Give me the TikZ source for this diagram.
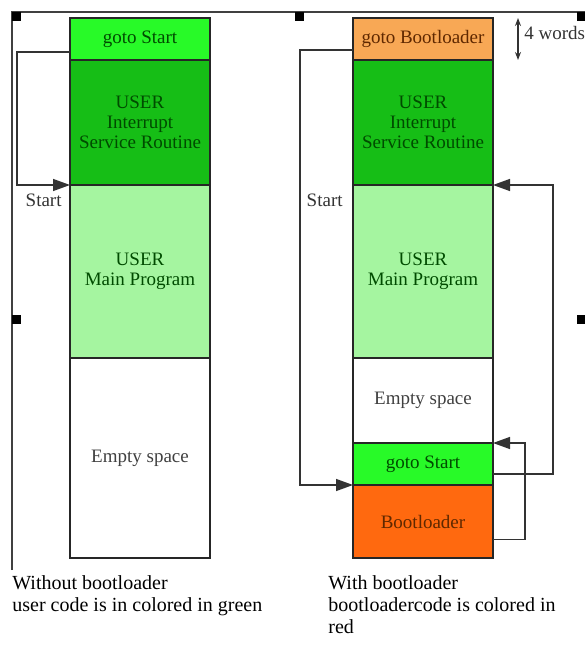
\documentclass[tikz,border=0pt]{standalone}
\usepackage{fontspec}
\setmainfont{Liberation Serif}
\usetikzlibrary{positioning,arrows.meta}
\definecolor{gotog}{RGB}{40,250,40}
\definecolor{isrg}{RGB}{22,190,22}
\definecolor{maing}{RGB}{165,245,160}
\definecolor{gotoor}{RGB}{248,168,85}
\definecolor{bootor}{RGB}{255,105,15}
\definecolor{txtg}{RGB}{0,75,0}
\definecolor{txtbr}{RGB}{95,40,0}

\begin{document}
\begin{tikzpicture}[x=0.5pt, y=-0.5pt, node distance=0pt,
  blk/.style={draw=black!85, line width=0.9pt, minimum width=70pt, inner sep=0pt,
    outer sep=0pt, align=center, font=\fontsize{9.5}{10}\selectfont},
  loopline/.style={draw=black!80, line width=0.7pt},
  tip/.style={-{Triangle[length=8.5pt,width=6pt]}},
  lbl/.style={font=\fontsize{9.5}{10}\selectfont, text=black!80, inner sep=0pt},
  captext/.style={anchor=north west, align=left, inner sep=0pt, font=\fontsize{10}{11}\selectfont}]
% canvas: 584 x 646 px, one unit = one pixel, y runs downwards
\useasboundingbox (0,0) rectangle (584,646);

% ---- canvas frame and handles ----
\draw[black!75, line width=0.6pt] (12,570) -- (12,12) -- (600,12);
\foreach \x/\y in {12/12, 295/12, 577/12, 12/315, 577/315}{
  \fill[black] (\x,\y) rectangle ++(9,9);
}

% ---- without bootloader ----
\node[blk, fill=gotog, minimum height=21pt, text=txtg, anchor=north west] (gotoL) at (70,18) {goto Start};
\node[blk, fill=isrg, minimum height=62.5pt, text=txtg, below=of gotoL] (isrL) {USER\\Interrupt\\Service Routine};
\node[blk, fill=maing, minimum height=86.5pt, text=txtg, below=of isrL] (mainL) {USER\\Main Program};
\node[blk, fill=white, minimum height=100pt, text=black!75, below=of mainL] (emptyL) {Empty space};

\draw[loopline, tip] ([yshift=-6.5pt]gotoL.west) -- ++(-53,0) |- (mainL.north west);
\node[lbl, anchor=east] (startL) at ([xshift=-4pt, yshift=-7.5pt]mainL.north west) {Start};

% ---- with bootloader ----
\node[blk, fill=gotoor, minimum height=21pt, text=txtbr, anchor=north west] (gotoBR) at (353,18) {goto Bootloader};
\node[blk, fill=isrg, minimum height=62.5pt, text=txtg, below=of gotoBR] (isrR) {USER\\Interrupt\\Service Routine};
\node[blk, fill=maing, minimum height=86.5pt, text=txtg, below=of isrR] (mainR) {USER\\Main Program};
\node[blk, fill=white, minimum height=42.5pt, text=black!75, below=of mainR] (emptyR) {Empty space};
\node[blk, fill=gotog, minimum height=21pt, text=txtg, below=of emptyR] (gotoSR) {goto Start};
\node[blk, fill=bootor, minimum height=36.5pt, text=txtbr, below=of gotoSR] (bootR) {Bootloader};

\draw[loopline, tip] ([yshift=-5.5pt]gotoBR.west) -- ++(-53,0) |- (bootR.north west);
\node[lbl, anchor=east] (startR) at ([xshift=-5pt, yshift=-7.5pt]mainR.north west) {Start};
\draw[loopline, tip] ([yshift=-5pt]gotoSR.east) -- ++(60,0) |- (mainR.north east);
\draw[loopline, tip] ([yshift=-9pt]bootR.east) -- ++(32,0) |- (gotoSR.north east);

% ---- size of the reset vector ----
\coordinate (wtop) at ([xshift=12.5pt]gotoBR.north east);
\coordinate (wbot) at ([xshift=12.5pt]gotoBR.south east);
\draw[black!80, line width=0.6pt, {Stealth[length=4pt,width=3pt]}-{Stealth[length=4pt,width=3pt]}] (wtop) -- (wbot);
\node[lbl, anchor=west] (words) at (524,33) {4 words};

% ---- captions ----
\node[captext] (capL) at (12,575) {Without bootloader\\user code is in colored in green};
\node[captext] (capR) at (328,575) {With bootloader\\bootloadercode is colored in\\red};
\end{tikzpicture}
\end{document}
